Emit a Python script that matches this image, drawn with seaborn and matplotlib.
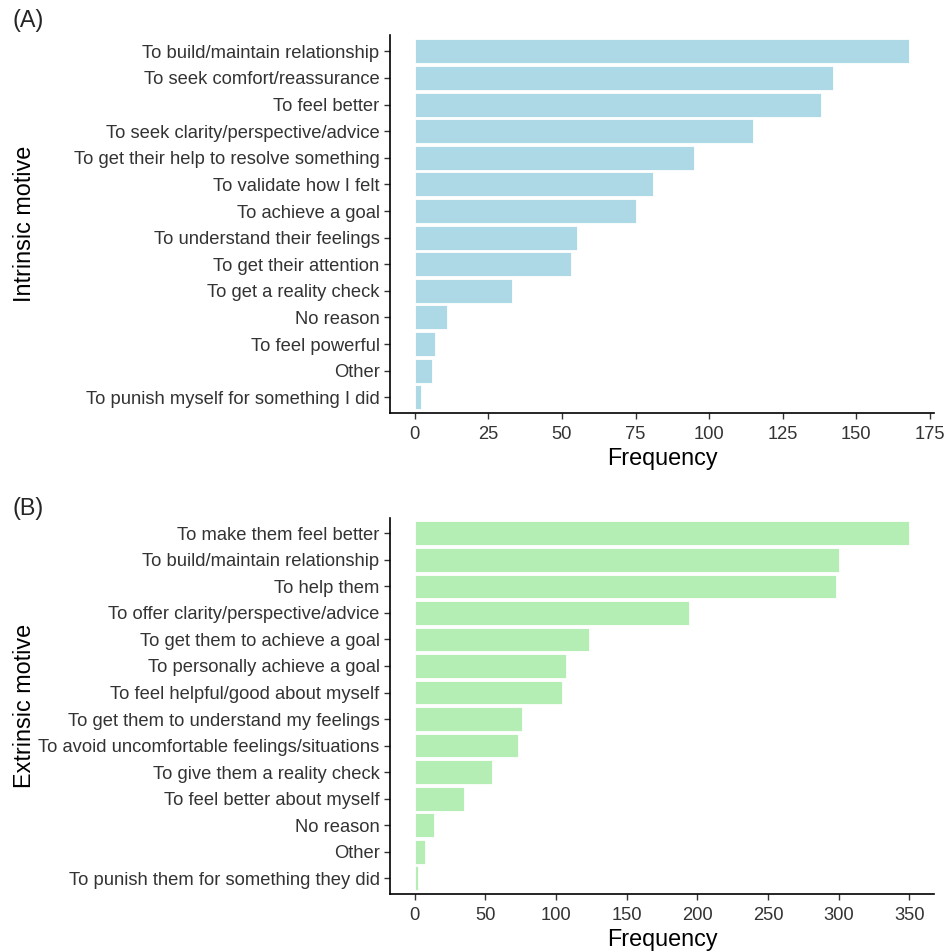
import matplotlib
matplotlib.use("Agg")
import matplotlib.pyplot as plt
import seaborn as sns
import pandas as pd

# panel A: intrinsic motives
intrinsic_labels = [
    "To build/maintain relationship",
    "To seek comfort/reassurance",
    "To feel better",
    "To seek clarity/perspective/advice",
    "To get their help to resolve something",
    "To validate how I felt",
    "To achieve a goal",
    "To understand their feelings",
    "To get their attention",
    "To get a reality check",
    "No reason",
    "To feel powerful",
    "Other",
    "To punish myself for something I did",
]
intrinsic_freq = [168, 142, 138, 115, 95, 81, 75, 55, 53, 33, 11, 7, 6, 2]
intrinsic_ticks = [0, 25, 50, 75, 100, 125, 150, 175]

# panel B: extrinsic motives
extrinsic_labels = [
    "To make them feel better",
    "To build/maintain relationship",
    "To help them",
    "To offer clarity/perspective/advice",
    "To get them to achieve a goal",
    "To personally achieve a goal",
    "To feel helpful/good about myself",
    "To get them to understand my feelings",
    "To avoid uncomfortable feelings/situations",
    "To give them a reality check",
    "To feel better about myself",
    "No reason",
    "Other",
    "To punish them for something they did",
]
extrinsic_freq = [350, 300, 298, 194, 123, 107, 104, 76, 73, 55, 35, 14, 7, 2]
extrinsic_ticks = [0, 50, 100, 150, 200, 250, 300, 350]

sns.set_style("ticks")
plt.rcParams['font.family'] = ['Liberation Sans', 'DejaVu Sans']

fig = plt.figure(figsize=(9.47, 9.52), dpi=100)
ax_a = fig.add_axes([0.4118, 0.5659, 0.5745, 0.3969])
ax_b = fig.add_axes([0.4118, 0.0609, 0.5745, 0.3955])

panels = [
    (ax_a, intrinsic_labels, intrinsic_freq, intrinsic_ticks, "#ADD8E6", "Intrinsic motive", "(A)", 20),
    (ax_b, extrinsic_labels, extrinsic_freq, extrinsic_ticks, "#B4EEB4", "Extrinsic motive", "(B)", 508),
]

for ax, labels, freq, ticks, colour, ylab, tag, tag_y in panels:
    df = pd.DataFrame({"motive": labels, "freq": freq})
    sns.barplot(data=df, x="freq", y="motive", ax=ax, color=colour,
                width=0.9, edgecolor="white", linewidth=0.6, saturation=1)
    top = max(freq)
    ax.set_xlim(-0.05 * top, 1.05 * top)
    ax.set_ylim(len(labels) - 0.4, -0.6)
    ax.set_xticks(ticks)
    sns.despine(ax=ax)
    for side in ["left", "bottom"]:
        ax.spines[side].set_linewidth(1.2)
        ax.spines[side].set_color("black")
    ax.tick_params(axis="both", length=4, width=1, color="#333333",
                   labelsize=13.2, labelcolor="#333333")
    ax.tick_params(axis="x", pad=5)
    ax.tick_params(axis="y", pad=3.5)
    ax.set_xlabel("Frequency", fontsize=16.8, color="black", labelpad=3)
    ax.set_ylabel(ylab, fontsize=16.8, color="black")
    ax.yaxis.set_label_coords(-0.65, 0.5)
    fig.text(12 / 947, 1 - tag_y / 952, tag, fontsize=16.8, ha="left", va="center")

fig.savefig("out.png", dpi=100, facecolor="white")
